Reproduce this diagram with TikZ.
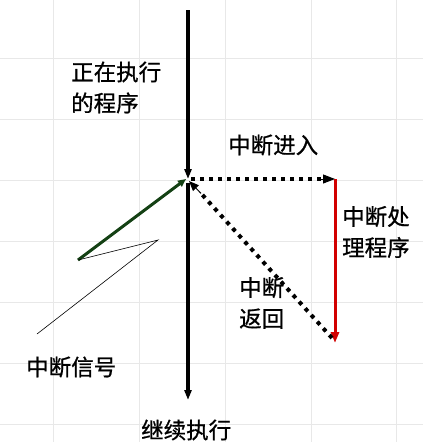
\documentclass[tikz,border=0pt]{standalone}
\usepackage{fontspec}
\setmainfont{Noto Sans CJK SC}[FakeBold=0.8]
\usetikzlibrary{arrows.meta,calc}
\begin{document}
\begin{tikzpicture}[x=1pt,y=-1pt,
  lbl/.style={font=\fontsize{22.5}{31}\selectfont, inner sep=0pt, align=left},
  tip/.style={-{Triangle[length=10pt,width=7pt]}},
  dotline/.style={line width=4pt, dash pattern=on 4pt off 5pt},
  gridline/.style={draw=black!9, line width=0.8pt}]
\useasboundingbox (0,0) rectangle (423,442);
\fill[white] (0,0) rectangle (423,442);
% grid
\foreach \gx in {53,139,225,311,396} \draw[gridline] (\gx,0) -- (\gx,442);
\foreach \gy in {58,119,180,241,302,363,424} \draw[gridline] (0,\gy) -- (423,\gy);
% coordinates
\coordinate (top) at (188,10);
\coordinate (c) at (188,179);
\coordinate (cl) at (188,183);
\coordinate (bot) at (188,400);
\coordinate (r) at (335,179);
\coordinate (rs) at (191,179);
\coordinate (rb) at (335,343);
\coordinate (g) at (78,260);
\coordinate (gz) at (158,240);
\coordinate (ge) at (37,334);
\coordinate (ret) at (332,338);
% main flow
\draw[line width=3.5pt, tip] (top) -- (c);
\draw[line width=3.5pt, tip] (cl) -- (bot);
% interrupt entry
\draw[dotline] (rs) -- ($(r)+(-14,0)$);
\draw[line width=1pt, -{Triangle[length=12pt,width=9pt]}] ($(r)+(-14,0)$) -- (r);
% red handler
\draw[draw={rgb,255:red,210;green,0;blue,0}, line width=3pt, -{Triangle[length=11pt,width=8pt]}] (r) -- (rb);
% return
\draw[dotline] (ret) -- ($(c)!0.08!(ret)$);
\draw[line width=1pt, -{Triangle[length=10pt,width=8pt]}] ($(c)!0.09!(ret)$) -- ($(c)+(1,2)$);
% green signal
\draw[draw={rgb,255:red,20;green,65;blue,20}, line width=3pt, -{Triangle[length=8pt,width=7pt]}] (g) -- ($(c)+(-2,0)$);
\draw[line width=0.6pt] (g) -- (gz) -- (ge);
% labels
\node[lbl, anchor=west] (t1) at (71,87.5) {正在执行\\的程序};
\node[lbl, anchor=west] (t2) at (228,145) {中断进入};
\node[lbl, anchor=west] (t3) at (342,232) {中断处\\理程序};
\node[lbl, anchor=west] (t4) at (239,303) {中断\\返回};
\node[lbl, anchor=west] (t5) at (26,367) {中断信号};
\node[lbl, anchor=west] (t6) at (141,430) {继续执行};
\end{tikzpicture}
\end{document}
